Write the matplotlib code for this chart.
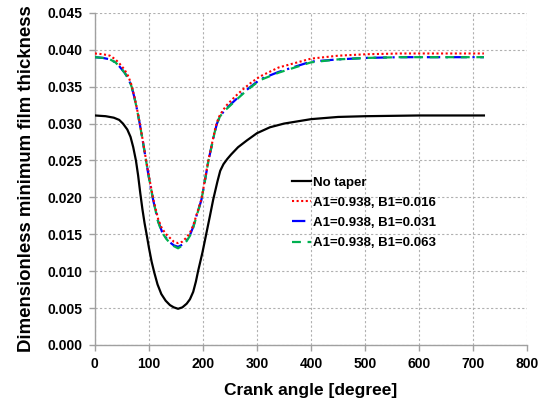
import matplotlib
matplotlib.use("Agg")
import matplotlib.pyplot as plt

# ---------------- data ----------------
angle_black = [0, 20, 35, 45, 52, 60, 66, 71, 76, 80, 84, 88, 92, 96, 100, 105,
               110, 116, 123, 131, 139, 146, 154, 162, 170, 176, 182, 187, 191,
               199, 206, 213, 219, 227, 232, 238, 245, 252, 265, 281, 300, 324,
               350, 400, 450, 500, 600, 720]
no_taper = [0.0311, 0.0310, 0.0308, 0.0305, 0.0300, 0.0292, 0.0282, 0.0268,
            0.0250, 0.0230, 0.0206, 0.0184, 0.0165, 0.0149, 0.0132, 0.0113,
            0.0098, 0.0082, 0.0069, 0.0060, 0.0054, 0.0051, 0.0049, 0.0051,
            0.0056, 0.0062, 0.0072, 0.0086, 0.0100, 0.0125, 0.0150, 0.0175,
            0.0197, 0.0222, 0.0236, 0.0245, 0.0252, 0.0258, 0.0268, 0.0277,
            0.0287, 0.0295, 0.0300, 0.0306, 0.0309, 0.0310, 0.0311, 0.0311]

angle_taper = [0, 15, 28, 38, 46, 55, 62, 68, 73, 78, 83, 89, 94, 99, 108, 117,
               124, 132, 139, 146, 154, 162, 170, 176, 182, 188, 197, 204, 210,
               218, 222, 226, 231, 237, 244, 260, 275, 290, 306, 340, 400, 450,
               503, 565, 720]
b016 = [0.0395, 0.0394, 0.0392, 0.0387, 0.0381, 0.0373, 0.0364, 0.0352, 0.0337,
        0.0320, 0.0301, 0.0276, 0.0254, 0.0233, 0.0198, 0.0171, 0.0158, 0.0150,
        0.0145, 0.0140, 0.0138, 0.0140, 0.0146, 0.0152, 0.0162, 0.0176, 0.0197,
        0.0225, 0.0250, 0.0277, 0.0291, 0.0302, 0.0311, 0.0318, 0.0325, 0.0337,
        0.0347, 0.0356, 0.0364, 0.0376, 0.0388, 0.0392, 0.0394, 0.0395, 0.0395]
b031 = [0.0390, 0.0389, 0.0387, 0.0383, 0.0377, 0.0369, 0.0361, 0.0350, 0.0336,
        0.0319, 0.0300, 0.0275, 0.0253, 0.0231, 0.0196, 0.0168, 0.0154, 0.0145,
        0.0139, 0.0135, 0.0133, 0.0136, 0.0142, 0.0149, 0.0160, 0.0175, 0.0196,
        0.0224, 0.0249, 0.0276, 0.0289, 0.0300, 0.0309, 0.0315, 0.0321, 0.0332,
        0.0342, 0.0351, 0.0360, 0.0370, 0.0384, 0.0387, 0.0389, 0.0390, 0.0390]
b063 = [0.0390, 0.0389, 0.0387, 0.0383, 0.0377, 0.0369, 0.0361, 0.0350, 0.0336,
        0.0319, 0.0300, 0.0275, 0.0253, 0.0231, 0.0196, 0.0167, 0.0153, 0.0144,
        0.0138, 0.0134, 0.0131, 0.0135, 0.0141, 0.0148, 0.0159, 0.0174, 0.0196,
        0.0224, 0.0249, 0.0276, 0.0289, 0.0300, 0.0309, 0.0315, 0.0320, 0.0331,
        0.0341, 0.0350, 0.0359, 0.0369, 0.0383, 0.0387, 0.0389, 0.0390, 0.0390]

labels = ["No taper", "A1=0.938, B1=0.016", "A1=0.938, B1=0.031", "A1=0.938, B1=0.063"]
x_ticks = [0, 100, 200, 300, 400, 500, 600, 700, 800]
y_ticks = [0.000, 0.005, 0.010, 0.015, 0.020, 0.025, 0.030, 0.035, 0.040, 0.045]

# ---------------- plot ----------------
plt.rcParams['font.family'] = ['Liberation Sans', 'DejaVu Sans']
fig = plt.figure(figsize=(5.39, 4.03), dpi=100)
ax = fig.add_axes([0.176, 0.144, 0.802, 0.824])

ax.plot(angle_black, no_taper, color='black', lw=1.6, label=labels[0], zorder=3)
ax.plot(angle_taper, b016, color='#FF0000', lw=1.5, ls=(0, (1, 1.2)), label=labels[1], zorder=4)
ax.plot(angle_taper, b031, color='#0000FF', lw=1.6, ls=(0, (6, 2.5, 1, 2.5)), label=labels[2], zorder=3)
ax.plot(angle_taper, b063, color='#00B050', lw=1.6, ls=(0, (4, 3)), label=labels[3], zorder=3)

ax.set_xlim(0, 800)
ax.set_ylim(0, 0.045)
ax.set_xticks(x_ticks)
ax.set_yticks(y_ticks)
ax.set_xticklabels([str(v) for v in x_ticks], fontsize=10, fontweight='bold')
ax.set_yticklabels([f"{v:.3f}" for v in y_ticks], fontsize=10, fontweight='bold')

ax.grid(True, color='#B0B0B0', ls=(0, (2, 2)), lw=0.8)
ax.set_axisbelow(True)
for s in ['top', 'right']:
    ax.spines[s].set_visible(False)
for s in ['left', 'bottom']:
    ax.spines[s].set_color('#A0A0A0')
    ax.spines[s].set_linewidth(1.0)
ax.tick_params(axis='both', colors='#A0A0A0', labelcolor='black', length=4, width=1.0, pad=5)

ax.set_xlabel("Crank angle [degree]", fontsize=12.5, fontweight='bold', labelpad=8)
ax.set_ylabel("Dimensionless minimum film thickness", fontsize=13.4, fontweight='bold', labelpad=9)

leg = ax.legend(loc='upper left', bbox_to_anchor=(0.44, 0.527), frameon=False,
                prop={'weight': 'bold', 'size': 9.5}, handlelength=1.5,
                handletextpad=0.1, labelspacing=0.6, borderpad=0)

fig.savefig("out.png", dpi=100)
